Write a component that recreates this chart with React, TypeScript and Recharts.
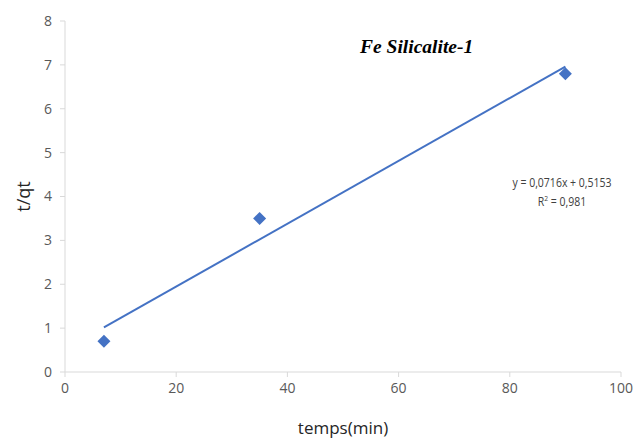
import {
  ComposedChart,
  Scatter,
  Line,
  XAxis,
  YAxis,
  Label,
} from 'recharts';

// measured points: time (min) vs t/qt
const times = [7, 35, 90];
const tqt = [0.7, 3.5, 6.8];

// linear fit reported on the chart
const slope = 0.0716;
const intercept = 0.5153;
const fitRange = [7, 90];

const xTicks = [0, 20, 40, 60, 80, 100];
const yTicks = [0, 1, 2, 3, 4, 5, 6, 7, 8];

const points = times.map((t, i) => ({ x: t, y: tqt[i] }));
const fitLine = fitRange.map((x) => ({ x, y: slope * x + intercept }));

const BLUE = '#4472C4';
const AXIS = '#d9d9d9';
const TICK_TEXT = '#595959';
const tickStyle = { fontFamily: 'Open Sans', fontSize: 14, fill: TICK_TEXT };

// square diamond marker
function Diamond({ cx, cy }: any) {
  const r = 6.5;
  return (
    <polygon
      points={`${cx},${cy - r} ${cx + r},${cy} ${cx},${cy + r} ${cx - r},${cy}`}
      fill={BLUE}
    />
  );
}

export default function App() {
  return (
    <div
      style={{
        position: 'absolute',
        left: 0,
        top: 0,
        width: 638,
        height: 444,
        background: '#fff',
        overflow: 'visible',
      }}
    >
      <ComposedChart
        width={638}
        height={444}
        margin={{ top: 21, right: 17, bottom: 0, left: 0 }}
        style={{ overflow: 'visible' }}
      >
        <XAxis
          type="number"
          dataKey="x"
          domain={[0, 100]}
          ticks={xTicks}
          stroke={AXIS}
          tickSize={5}
          tick={tickStyle}
          tickMargin={6}
          height={72}
          interval={0}
        >
          <Label
            value="temps(min)"
            position="insideBottom"
            offset={10}
            style={{ fontFamily: 'Open Sans', fontSize: 17, fill: '#262626' }}
          />
        </XAxis>
        <YAxis
          type="number"
          dataKey="y"
          domain={[0, 8]}
          ticks={yTicks}
          stroke={AXIS}
          tickSize={5}
          tick={tickStyle}
          tickMargin={8}
          width={65}
        >
          <Label
            value="t/qt"
            angle={-90}
            position="insideLeft"
            offset={24}
            style={{ fontFamily: 'Open Sans', fontSize: 18, fill: '#262626', textAnchor: 'middle' }}
          />
        </YAxis>
        <Line
          data={fitLine}
          dataKey="y"
          stroke={BLUE}
          strokeWidth={2}
          dot={false}
          activeDot={false}
          isAnimationActive={false}
        />
        <Scatter
          data={points}
          fill={BLUE}
          shape={<Diamond />}
          isAnimationActive={false}
        />
      </ComposedChart>
      <div
        style={{
          position: 'absolute',
          left: 360,
          top: 36,
          fontFamily: 'Liberation Serif',
          fontStyle: 'italic',
          fontWeight: 'bold',
          fontSize: 19.5,
          color: '#000',
          whiteSpace: 'nowrap',
        }}
      >
        Fe Silicalite-1
      </div>
      <div
        style={{
          position: 'absolute',
          left: 500,
          top: 173,
          width: 124,
          textAlign: 'center',
          fontFamily: 'Open Sans',
          fontSize: 12.5,
          lineHeight: '19px',
          color: '#404040',
          whiteSpace: 'nowrap',
          transform: 'scaleX(0.84)',
        }}
      >
        <div>y = 0,0716x + 0,5153</div>
        <div>
          R<sup style={{ fontSize: 8, lineHeight: 0 }}>2</sup> = 0,981
        </div>
      </div>
    </div>
  );
}
